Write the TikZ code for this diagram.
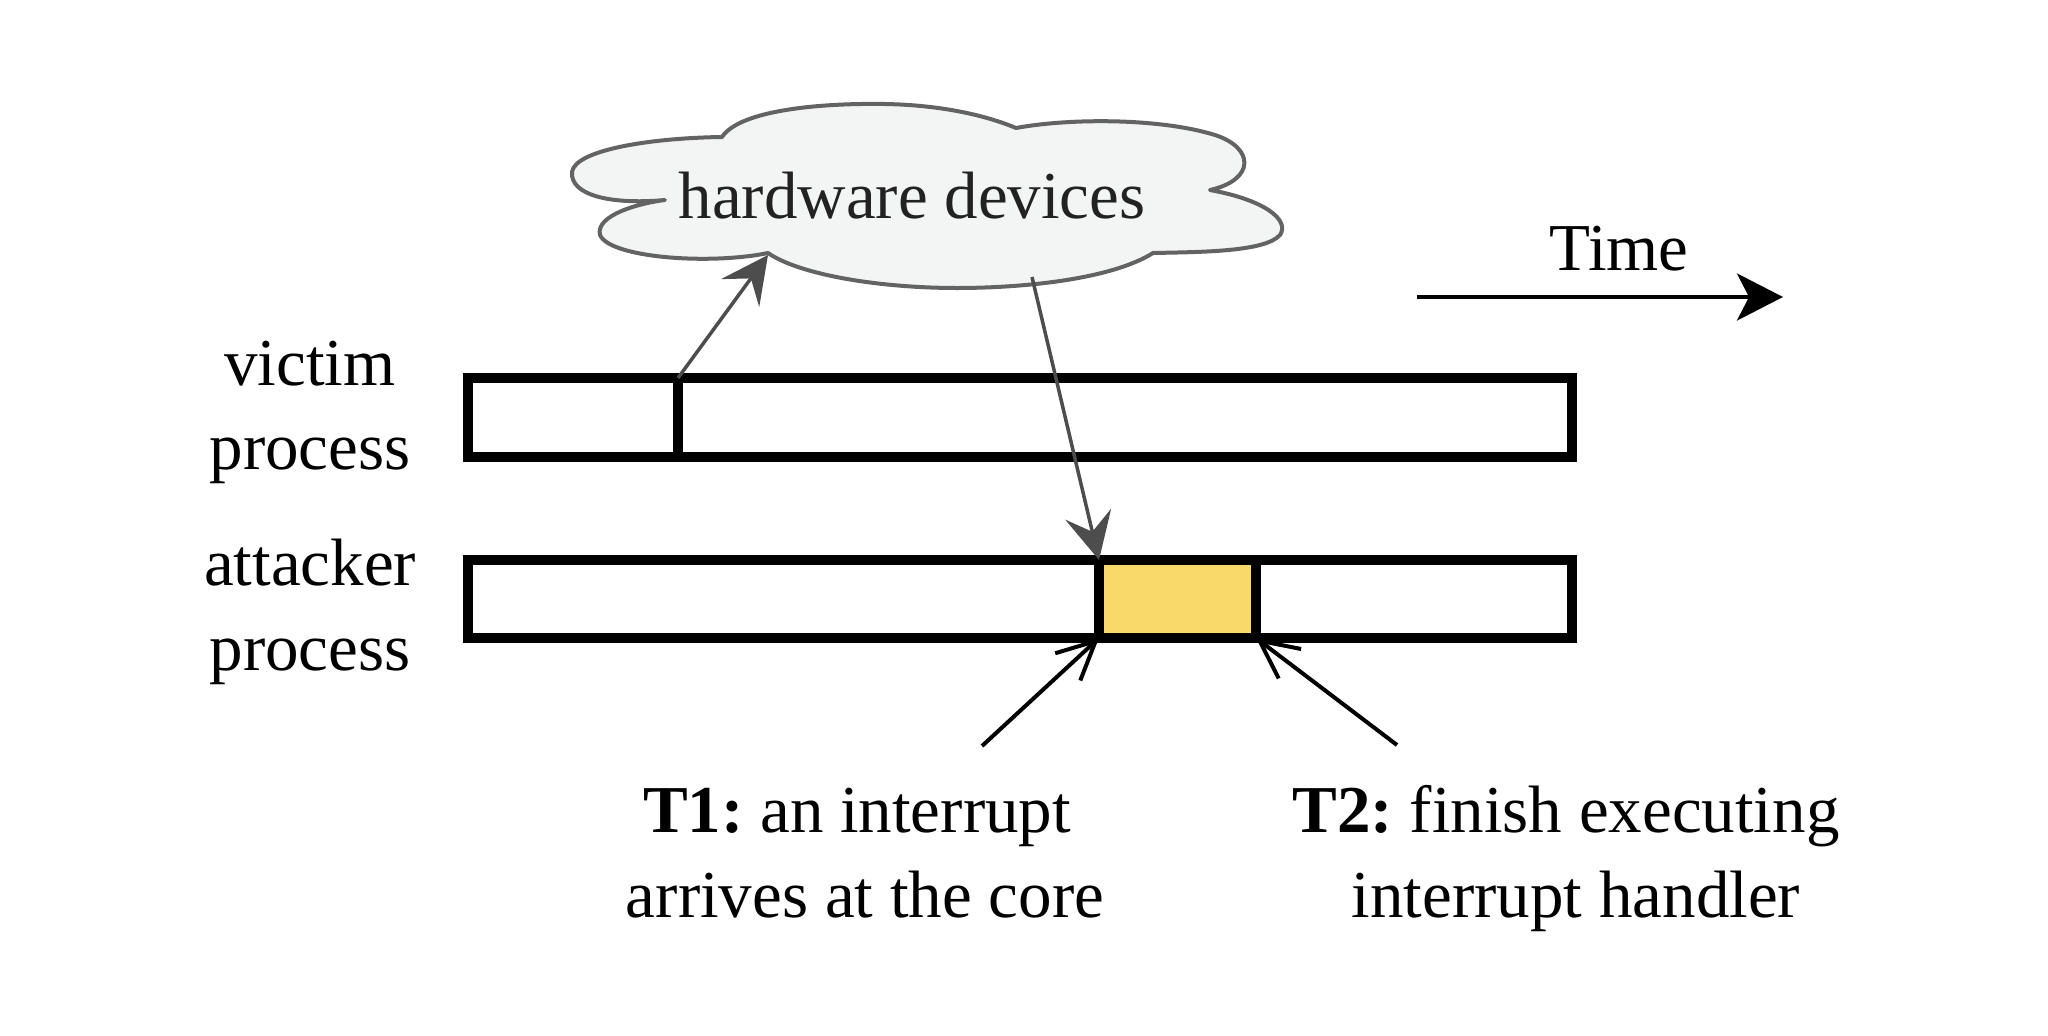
\documentclass[tikz,border=0pt]{standalone}
\usepackage{fontspec}
\setmainfont{Liberation Serif}
\usetikzlibrary{arrows.meta}
\definecolor{cloudfill}{HTML}{F3F5F4}
\definecolor{cloudline}{HTML}{636363}
\definecolor{arrowgray}{HTML}{4D4D4D}
\definecolor{handleryellow}{HTML}{F9D96A}
\definecolor{cloudtext}{HTML}{222222}
\frenchspacing
\begin{document}
\begin{tikzpicture}[x=1pt,y=-1pt,
  lbl/.style={font=\fontsize{67}{85}\selectfont, inner sep=0pt, anchor=base},
  bar/.style={draw=black, line width=9.5pt, fill=white, inner sep=0pt, outer sep=0pt},
  grayarrow/.style={draw=arrowgray, line width=3.5pt, -{Stealth[length=47pt,width=47pt,inset=18pt]}},
  timearrow/.style={draw=black, line width=4pt, -{Stealth[length=46pt,width=47pt,inset=12pt]}},
  markarrow/.style={draw=black, line width=4pt, -{Straight Barb[length=38pt,width=37pt]}},
  cloudstyle/.style={draw=cloudline, fill=cloudfill, line width=4pt, line join=round}
]
\useasboundingbox (0,0) rectangle (2048,1036);

% cloud
\path[cloudstyle] (665,200) .. controls (610,205) and (570,195) .. (572,172)
  .. controls (575,150) and (650,138) .. (722,137)
  .. controls (740,110) and (820,103) .. (885,104)
  .. controls (940,105) and (985,115) .. (1016,128)
  .. controls (1070,118) and (1160,118) .. (1215,135)
  .. controls (1255,148) and (1255,180) .. (1210,190)
  .. controls (1265,200) and (1290,220) .. (1280,235)
  .. controls (1265,252) and (1200,252) .. (1153,253)
  .. controls (1110,280) and (1020,288) .. (957,288)
  .. controls (880,288) and (800,275) .. (768,253)
  .. controls (710,265) and (610,258) .. (600,235)
  .. controls (595,215) and (640,203) .. (665,200) -- cycle;
\node[lbl, text=cloudtext] (hw) at (912,218) {hardware devices};
\coordinate (cloudA) at (768,255);
\coordinate (cloudB) at (1032,277);

% bars
\node[bar, minimum width=1104pt, minimum height=79pt] (victim) at (1020,417.5) {};
\node[bar, minimum width=1104pt, minimum height=78pt] (attacker) at (1020,599) {};
\node[bar, fill=handleryellow, minimum width=157pt, minimum height=78pt] (handler) at (1177.5,599) {};
\coordinate (vsplit) at (678,378);
\draw[line width=9.5pt] (vsplit) -- (vsplit |- victim.south);

% labels
\node[lbl] (victimA) at (310,385) {victim};
\node[lbl] (victimB) at (310,469) {process};
\node[lbl] (attA) at (310,585) {attacker};
\node[lbl] (attB) at (310,670) {process};
\node[lbl] (time) at (1619,270) {Time};
\node[lbl] (t1a) at (857,832) {\textbf{T1:} an interrupt};
\node[lbl] (t1b) at (865,917) {arrives at the core};
\node[lbl] (t2a) at (1566,832) {\textbf{T2:} finish executing};
\node[lbl] (t2b) at (1576,917) {interrupt handler};

% arrows
\draw[grayarrow] (vsplit) -- (cloudA);
\draw[grayarrow] (cloudB) -- (handler.north west);
\coordinate (t1start) at (982,746);
\coordinate (t2start) at (1397,745);
\draw[markarrow] (t1start) -- (handler.south west);
\draw[markarrow] (t2start) -- (handler.south east);
\coordinate (tstart) at (1417,297);
\coordinate (tend) at (1783,297);
\draw[timearrow] (tstart) -- (tend);
\end{tikzpicture}
\end{document}
